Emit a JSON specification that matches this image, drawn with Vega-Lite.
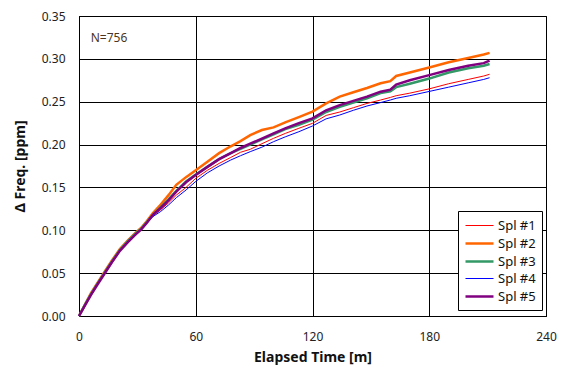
{
  "$schema": "https://vega.github.io/schema/vega-lite/v6.json",
  "width": 467,
  "height": 300,
  "autosize": {"type": "none"},
  "padding": {"left": 79, "top": 16, "right": 25, "bottom": 66},
  "background": "white",
  "config": {
    "font": "Noto Sans",
    "view": {"stroke": "black", "strokeWidth": 1},
    "axis": {
      "gridColor": "black", "gridOpacity": 1, "gridWidth": 1,
      "domainColor": "black", "ticks": false, "labelFlush": false,
      "labelFontSize": 12, "labelColor": "#222", "labelFont": "Noto Sans",
      "titleFontSize": 14, "titleFontWeight": "bold", "titleColor": "#111", "titleFont": "Noto Sans"
    }
  },
  "datasets": {
    "curves": [
      {"t": 0, "Spl #1": 0, "Spl #2": 0, "Spl #3": 0, "Spl #4": 0, "Spl #5": 0},
      {"t": 3, "Spl #1": 0.013, "Spl #2": 0.013, "Spl #3": 0.013, "Spl #4": 0.012, "Spl #5": 0.012},
      {"t": 6, "Spl #1": 0.025, "Spl #2": 0.026, "Spl #3": 0.025, "Spl #4": 0.024, "Spl #5": 0.024},
      {"t": 9, "Spl #1": 0.036, "Spl #2": 0.037, "Spl #3": 0.036, "Spl #4": 0.035, "Spl #5": 0.035},
      {"t": 13, "Spl #1": 0.050, "Spl #2": 0.051, "Spl #3": 0.050, "Spl #4": 0.049, "Spl #5": 0.049},
      {"t": 17, "Spl #1": 0.064, "Spl #2": 0.065, "Spl #3": 0.064, "Spl #4": 0.063, "Spl #5": 0.063},
      {"t": 21, "Spl #1": 0.077, "Spl #2": 0.078, "Spl #3": 0.077, "Spl #4": 0.076, "Spl #5": 0.076},
      {"t": 25, "Spl #1": 0.087, "Spl #2": 0.088, "Spl #3": 0.087, "Spl #4": 0.086, "Spl #5": 0.086},
      {"t": 29, "Spl #1": 0.096, "Spl #2": 0.097, "Spl #3": 0.096, "Spl #4": 0.095, "Spl #5": 0.095},
      {"t": 32, "Spl #1": 0.102, "Spl #2": 0.103, "Spl #3": 0.102, "Spl #4": 0.101, "Spl #5": 0.101},
      {"t": 35, "Spl #1": 0.110, "Spl #2": 0.111, "Spl #3": 0.110, "Spl #4": 0.109, "Spl #5": 0.109},
      {"t": 38, "Spl #1": 0.117, "Spl #2": 0.120, "Spl #3": 0.118, "Spl #4": 0.116, "Spl #5": 0.118},
      {"t": 42, "Spl #1": 0.124, "Spl #2": 0.130, "Spl #3": 0.127, "Spl #4": 0.122, "Spl #5": 0.126},
      {"t": 46, "Spl #1": 0.132, "Spl #2": 0.141, "Spl #3": 0.136, "Spl #4": 0.1295, "Spl #5": 0.135},
      {"t": 50, "Spl #1": 0.141, "Spl #2": 0.153, "Spl #3": 0.146, "Spl #4": 0.138, "Spl #5": 0.145},
      {"t": 55, "Spl #1": 0.150, "Spl #2": 0.162, "Spl #3": 0.157, "Spl #4": 0.147, "Spl #5": 0.156},
      {"t": 60, "Spl #1": 0.1606, "Spl #2": 0.170, "Spl #3": 0.165, "Spl #4": 0.157, "Spl #5": 0.1645},
      {"t": 66, "Spl #1": 0.170, "Spl #2": 0.180, "Spl #3": 0.174, "Spl #4": 0.167, "Spl #5": 0.174},
      {"t": 72, "Spl #1": 0.178, "Spl #2": 0.190, "Spl #3": 0.183, "Spl #4": 0.175, "Spl #5": 0.183},
      {"t": 78, "Spl #1": 0.185, "Spl #2": 0.198, "Spl #3": 0.190, "Spl #4": 0.182, "Spl #5": 0.190},
      {"t": 83, "Spl #1": 0.191, "Spl #2": 0.204, "Spl #3": 0.195, "Spl #4": 0.187, "Spl #5": 0.196},
      {"t": 88, "Spl #1": 0.1945, "Spl #2": 0.211, "Spl #3": 0.200, "Spl #4": 0.1917, "Spl #5": 0.201},
      {"t": 94, "Spl #1": 0.201, "Spl #2": 0.217, "Spl #3": 0.206, "Spl #4": 0.197, "Spl #5": 0.207},
      {"t": 100, "Spl #1": 0.2073, "Spl #2": 0.220, "Spl #3": 0.212, "Spl #4": 0.2034, "Spl #5": 0.213},
      {"t": 106, "Spl #1": 0.213, "Spl #2": 0.226, "Spl #3": 0.218, "Spl #4": 0.209, "Spl #5": 0.219},
      {"t": 113, "Spl #1": 0.219, "Spl #2": 0.232, "Spl #3": 0.223, "Spl #4": 0.215, "Spl #5": 0.225},
      {"t": 120, "Spl #1": 0.2248, "Spl #2": 0.2384, "Spl #3": 0.229, "Spl #4": 0.2217, "Spl #5": 0.2306},
      {"t": 127, "Spl #1": 0.234, "Spl #2": 0.248, "Spl #3": 0.238, "Spl #4": 0.230, "Spl #5": 0.240},
      {"t": 134, "Spl #1": 0.238, "Spl #2": 0.2559, "Spl #3": 0.244, "Spl #4": 0.2345, "Spl #5": 0.246},
      {"t": 141, "Spl #1": 0.243, "Spl #2": 0.261, "Spl #3": 0.249, "Spl #4": 0.240, "Spl #5": 0.251},
      {"t": 148, "Spl #1": 0.248, "Spl #2": 0.266, "Spl #3": 0.254, "Spl #4": 0.245, "Spl #5": 0.256},
      {"t": 155, "Spl #1": 0.252, "Spl #2": 0.2715, "Spl #3": 0.260, "Spl #4": 0.249, "Spl #5": 0.2617},
      {"t": 160, "Spl #1": 0.255, "Spl #2": 0.274, "Spl #3": 0.262, "Spl #4": 0.252, "Spl #5": 0.264},
      {"t": 163, "Spl #1": 0.257, "Spl #2": 0.280, "Spl #3": 0.267, "Spl #4": 0.254, "Spl #5": 0.270},
      {"t": 170, "Spl #1": 0.260, "Spl #2": 0.284, "Spl #3": 0.271, "Spl #4": 0.257, "Spl #5": 0.275},
      {"t": 180, "Spl #1": 0.265, "Spl #2": 0.290, "Spl #3": 0.277, "Spl #4": 0.262, "Spl #5": 0.281},
      {"t": 190, "Spl #1": 0.271, "Spl #2": 0.296, "Spl #3": 0.284, "Spl #4": 0.267, "Spl #5": 0.287},
      {"t": 200, "Spl #1": 0.276, "Spl #2": 0.301, "Spl #3": 0.289, "Spl #4": 0.272, "Spl #5": 0.292},
      {"t": 208, "Spl #1": 0.280, "Spl #2": 0.305, "Spl #3": 0.292, "Spl #4": 0.276, "Spl #5": 0.295},
      {"t": 211, "Spl #1": 0.282, "Spl #2": 0.307, "Spl #3": 0.294, "Spl #4": 0.278, "Spl #5": 0.298}
    ],
    "note": [{"t": 6, "v": 0.324, "label": "N=756"}]
  },
  "layer": [
    {
      "data": {"name": "curves"},
      "transform": [{"fold": ["Spl #1", "Spl #2", "Spl #3", "Spl #4", "Spl #5"], "as": ["s", "v"]}],
      "mark": {"type": "line", "interpolate": "linear"},
      "encoding": {
        "x": {
          "field": "t", "type": "quantitative",
          "scale": {"domain": [0, 240], "nice": false},
          "axis": {"values": [0, 60, 120, 180, 240], "title": "Elapsed Time [m]", "labelPadding": 15, "titlePadding": 8}
        },
        "y": {
          "field": "v", "type": "quantitative",
          "scale": {"domain": [0, 0.35], "nice": false},
          "axis": {"values": [0, 0.05, 0.1, 0.15, 0.2, 0.25, 0.3, 0.35], "format": ".2f", "title": "Δ Freq. [ppm]", "labelPadding": 14, "titlePadding": 14}
        },
        "color": {
          "field": "s", "type": "nominal",
          "scale": {"domain": ["Spl #1", "Spl #2", "Spl #3", "Spl #4", "Spl #5"], "range": ["#FF0000", "#FF6600", "#339966", "#0000FF", "#800080"]},
          "legend": {
            "title": null, "orient": "none", "legendX": 379, "legendY": 195,
            "fillColor": "white", "strokeColor": "black", "padding": 6,
            "symbolType": "M-1,0H2.5", "symbolSize": 256,
            "labelFontSize": 13, "labelColor": "#111", "rowPadding": 1, "labelOffset": 15
          }
        },
        "strokeWidth": {
          "field": "s", "type": "nominal",
          "scale": {"type": "ordinal", "domain": ["Spl #1", "Spl #2", "Spl #3", "Spl #4", "Spl #5"], "range": [1, 2.5, 2.5, 1, 2.5]},
          "legend": {
            "title": null, "orient": "none", "legendX": 379, "legendY": 195,
            "fillColor": "white", "strokeColor": "black", "padding": 6,
            "symbolType": "M-1,0H2.5", "symbolSize": 256,
            "labelFontSize": 13, "labelColor": "#111", "rowPadding": 1, "labelOffset": 15
          }
        }
      }
    },
    {
      "data": {"name": "note"},
      "mark": {"type": "text", "align": "left", "baseline": "middle", "fontSize": 12, "color": "#4a3520"},
      "encoding": {
        "x": {"field": "t", "type": "quantitative"},
        "y": {"field": "v", "type": "quantitative"},
        "text": {"field": "label"}
      }
    }
  ]
}
